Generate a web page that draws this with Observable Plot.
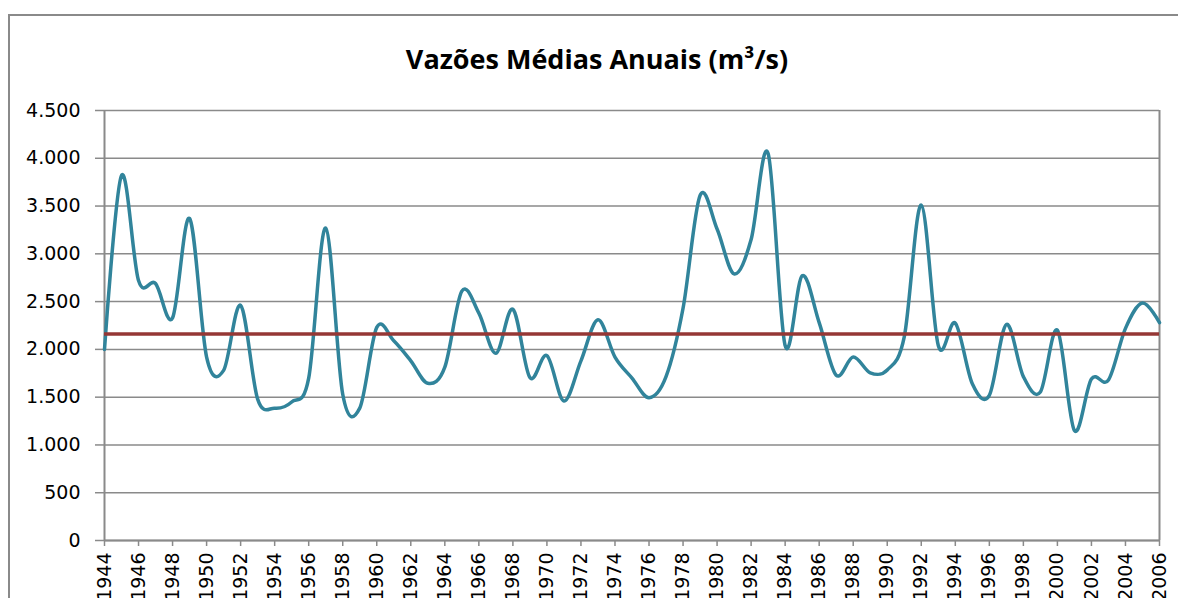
<!DOCTYPE html>
<html>
<head>
<meta charset="utf-8">
<script src="https://cdn.jsdelivr.net/npm/d3@7"></script>
<script src="https://cdn.jsdelivr.net/npm/@observablehq/plot@0.6"></script>
<style>
  html, body { margin: 0; padding: 0; background: #fff; }
  #wrap { position: relative; width: 1178px; height: 598px; overflow: hidden; background: #fff; }
  #frame { position: absolute; left: 8px; top: 14px; width: 1300px; height: 800px; border: 2px solid #8a8a8a; box-sizing: border-box; }
  #title { position: absolute; left: 0; width: 1194px; top: 40px; text-align: center;
           font-family: "Open Sans", sans-serif; font-weight: 700; font-size: 27px; color: #000; letter-spacing: 0px; }
  #chart { position: absolute; left: 0; top: 0; }
  #chart svg, #chart svg text { font-family: "DejaVu Sans", sans-serif !important; }
</style>
</head>
<body>
<div id="wrap">
  <div id="frame"></div>
  <div id="chart"></div>
  <div id="title">Vazões Médias Anuais (m³/s)</div>
</div>
<script>
const anos = d3.range(1944, 2007);
const vazoes = [
  2000, 3820, 2720, 2690, 2330, 3370, 1920, 1780, 2460, 1480,
  1385, 1450, 1700, 3270, 1530, 1385, 2230, 2090, 1880, 1645,
  1815, 2610, 2380, 1960, 2420, 1705, 1935, 1460, 1880, 2310,
  1920, 1700, 1495, 1715, 2430, 3610, 3260, 2790, 3150, 4050,
  2040, 2770, 2280, 1730, 1920, 1755, 1785, 2130, 3510, 2040,
  2275, 1640, 1520, 2260, 1715, 1555, 2200, 1150, 1690, 1680,
  2220, 2485, 2280
];
const mediaLongoTermo = [2160];
const yTicks = [0, 500, 1000, 1500, 2000, 2500, 3000, 3500, 4000, 4500];
const yTickLabels = ["0", "500", "1.000", "1.500", "2.000", "2.500", "3.000", "3.500", "4.000", "4.500"];
const xTicks = d3.range(1944, 2007, 2);

const dados = anos.map((a, i) => ({ano: a, vazao: vazoes[i]}));
const axisColor = "#8a8a8a";
const yFmt = (d) => yTickLabels[yTicks.indexOf(d)];

const chart = Plot.plot({
  width: 1178,
  height: 598,
  marginLeft: 104,
  marginRight: 19,
  marginTop: 110,
  marginBottom: 58,
  style: { fontFamily: "'DejaVu Sans', sans-serif", fontSize: "19px", color: "#000", background: "transparent" },
  x: { domain: [1944, 2006], label: null },
  y: { domain: [0, 4500], label: null },
  marks: [
    Plot.gridY(yTicks, { stroke: axisColor, strokeOpacity: 1, strokeWidth: 1.5 }),
    Plot.ruleX([1944], { y1: 0, y2: 4500, stroke: axisColor, strokeWidth: 2 }),
    Plot.ruleX([2006], { y1: 0, y2: 4500, stroke: axisColor, strokeWidth: 2 }),
    Plot.axisY({ ticks: yTicks, tickFormat: yFmt, tickSize: 9, tickPadding: 15, stroke: axisColor, strokeWidth: 1.5, label: null, fontSize: 19 }),
    Plot.axisX({ ticks: xTicks, tickFormat: d => String(d), tickRotate: -90, tickSize: 6, tickPadding: 6, stroke: axisColor, strokeWidth: 1.5, label: null, fontSize: 19 }),
    Plot.ruleY([0], { stroke: axisColor, strokeWidth: 2 }),
    Plot.line(dados, { x: "ano", y: "vazao", stroke: "#31849B", strokeWidth: 3.5, curve: "cardinal", tension: 0 }),
    Plot.ruleY(mediaLongoTermo, { x1: 1944, x2: 2006, stroke: "#953735", strokeWidth: 3.5 })
  ]
});
document.getElementById("chart").appendChild(chart);
</script>
</body>
</html>
